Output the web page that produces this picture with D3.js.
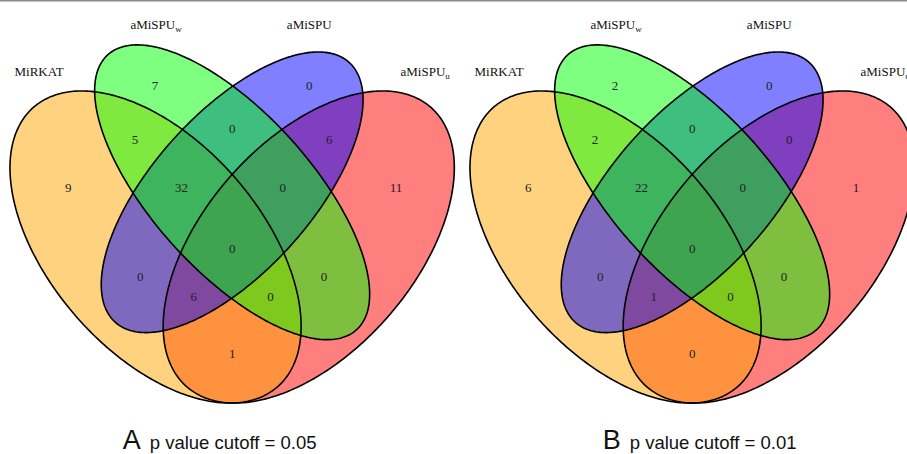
<!DOCTYPE html>
<html>
<head>
    <title>Venn</title>
    <script src="https://cdnjs.cloudflare.com/ajax/libs/d3/7.8.5/d3.min.js"></script>
    <style>
        body { margin: 0; background: white; }
        .set-label { font-family: "Liberation Serif", serif; font-size: 13px; fill: #111; }
        .count { font-family: "Liberation Serif", serif; font-size: 13px; fill: #222; }
        .caption { font-family: "Liberation Sans", Arial, sans-serif; fill: #111; }
    </style>
</head>
<body>
<div id="chart"></div>
<script>
    // sets: MiRKAT, aMiSPU_w, aMiSPU, aMiSPU_u
    const setNames = ["MiRKAT", "aMiSPU", "aMiSPU", "aMiSPU"];
    const setSubs = ["", "w", "", "u"];

    // regions: M = MiRKAT, W = aMiSPUw, S = aMiSPU, U = aMiSPUu
    const regions = ["M", "W", "S", "U", "MW", "WS", "SU", "MWS", "WSU", "MWSU", "MS", "WU", "MSU", "MWU", "MU"];
    const countsA = [9, 7, 0, 11, 5, 0, 6, 32, 0, 0, 0, 0, 6, 0, 1];
    const countsB = [6, 2, 0, 1, 2, 0, 0, 22, 0, 0, 0, 0, 1, 0, 0];

    const panelLetters = ["A", "B"];
    const cutoffs = ["0.05", "0.01"];

    // layout in npc units of each panel (quad venn), drawn in this order
    const ellipses = [
        { set: 3, x: 0.65, y: 0.47, a: 0.35, b: 0.20, rot: 45,  fill: "#ff0000" },
        { set: 0, x: 0.35, y: 0.47, a: 0.35, b: 0.20, rot: 135, fill: "#ffa500" },
        { set: 2, x: 0.50, y: 0.57, a: 0.33, b: 0.15, rot: 45,  fill: "#0000ff" },
        { set: 1, x: 0.50, y: 0.57, a: 0.35, b: 0.15, rot: 135, fill: "#00ff00" }
    ];
    const regionPos = {
        M: [0.179, 0.578], W: [0.349, 0.766], S: [0.651, 0.766], U: [0.821, 0.578],
        MW: [0.310, 0.667], WS: [0.5, 0.687], SU: [0.690, 0.667],
        MWS: [0.401, 0.578], WSU: [0.599, 0.578], MWSU: [0.5, 0.468],
        MS: [0.320, 0.417], WU: [0.680, 0.417],
        MSU: [0.425, 0.379], MWU: [0.575, 0.379], MU: [0.5, 0.276]
    };
    const labelPos = [[0.122, 0.790], [0.351, 0.877], [0.651, 0.877], [0.878, 0.790]];

    const W = 907, H = 454, panelStep = 460;
    const captionX = [122.7, 142.7];

    const svg = d3.select("#chart").append("svg")
        .attr("width", W).attr("height", H);

    svg.append("line")
        .attr("x1", 0).attr("x2", W).attr("y1", 0.75).attr("y2", 0.75)
        .attr("stroke", "#8a8a8a").attr("stroke-width", 1.5);

    [countsA, countsB].forEach((counts, p) => {
        const x = d3.scaleLinear().domain([0, 1]).range([-23.2 + p * panelStep, 487.5 + p * panelStep]);
        const y = d3.scaleLinear().domain([0, 1]).range([504.3, -43.1]);
        const g = svg.append("g");

        const line = d3.line().x(d => x(d[0])).y(d => y(d[1])).curve(d3.curveLinearClosed);
        const pts = e => d3.range(0, 360, 1).map(deg => {
            const t = deg * Math.PI / 180, r = e.rot * Math.PI / 180;
            return [e.x + e.a * Math.cos(t) * Math.cos(r) - e.b * Math.sin(t) * Math.sin(r),
                    e.y + e.a * Math.cos(t) * Math.sin(r) + e.b * Math.sin(t) * Math.cos(r)];
        });

        // fills first, outlines on top
        g.selectAll("path.fill").data(ellipses).join("path")
            .attr("class", "fill")
            .attr("d", d => line(pts(d)))
            .attr("fill", d => d.fill)
            .attr("fill-opacity", 0.5)
            .attr("stroke", "none");

        g.selectAll("path.edge").data(ellipses).join("path")
            .attr("class", "edge")
            .attr("d", d => line(pts(d)))
            .attr("fill", "none")
            .attr("stroke", "#000")
            .attr("stroke-width", 1.6);

        g.selectAll("text.count").data(regions).join("text")
            .attr("class", "count")
            .attr("x", d => x(regionPos[d][0]))
            .attr("y", d => y(regionPos[d][1]))
            .attr("dy", "0.35em")
            .attr("text-anchor", "middle")
            .text((d, i) => counts[i]);

        const lab = g.selectAll("text.set-label").data(setNames).join("text")
            .attr("class", "set-label")
            .attr("x", (d, i) => x(labelPos[i][0]))
            .attr("y", (d, i) => y(labelPos[i][1]))
            .attr("dy", "0.35em")
            .attr("text-anchor", "middle");
        lab.each(function (d, i) {
            const t = d3.select(this);
            t.append("tspan").text(d);
            if (setSubs[i]) {
                t.append("tspan").attr("font-size", "9px").attr("dy", 3).text(setSubs[i]);
            }
        });

        const cap = svg.append("text")
            .attr("class", "caption")
            .attr("x", captionX[p] + p * panelStep)
            .attr("y", 449);
        cap.append("tspan").attr("font-size", "27px").text(panelLetters[p]);
        cap.append("tspan").attr("font-size", "18.5px").attr("dx", 9).text("p value cutoff = " + cutoffs[p]);
    });
</script>
</body>
</html>
